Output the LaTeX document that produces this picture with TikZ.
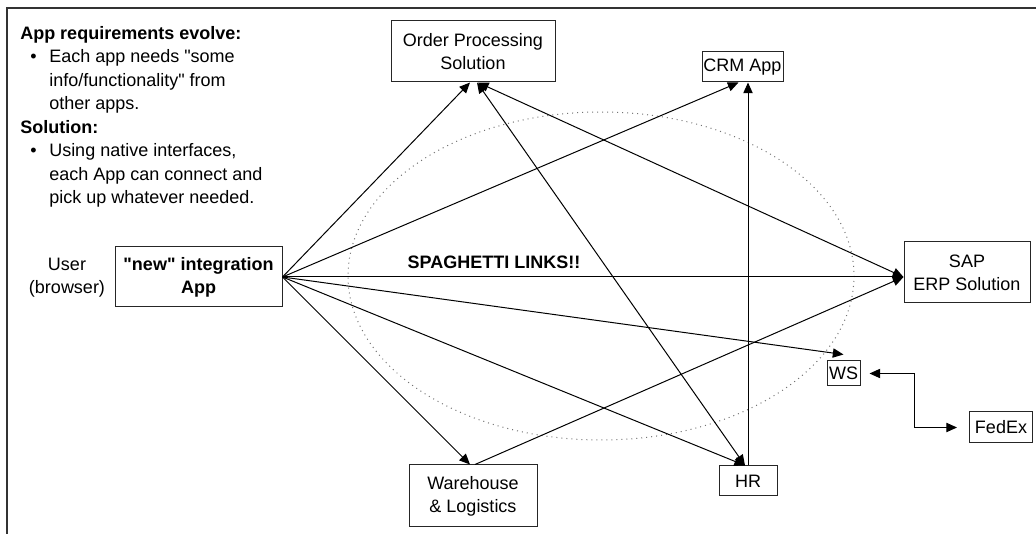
\documentclass[tikz,border=0pt]{standalone}
\usepackage{fontspec}
\setmainfont{Liberation Sans}[Ligatures=TeXOff]
\usetikzlibrary{arrows.meta,calc}
\newcommand\basefont{\fontsize{13.5}{17.25}\selectfont}
\begin{document}
\begin{tikzpicture}[x=0.75pt,y=-0.75pt,
  every node/.style={font=\basefont},
  box/.style={draw=black!85, line width=0.75pt, align=center, inner sep=1pt},
  link/.style={line width=0.75pt, -{Triangle[length=8pt,width=7pt]}},
  linkboth/.style={line width=0.75pt, {Triangle[length=8pt,width=7pt]}-{Triangle[length=8pt,width=7pt]}},
  txt/.style={anchor=base west, inner sep=0pt},
  ]
\useasboundingbox (0,0) rectangle (1036,534);
% frame
\draw[line width=1.5pt, black!80] (7,534) -- (7,8) -- (1036,8);
% dotted ellipse
\draw[black!55, line width=0.75pt, dash pattern=on 0.75pt off 3pt] (601,276) ellipse [x radius=253, y radius=164];

% notes
\node[txt, font=\basefont\bfseries] (h1) at (20,39.5) {App requirements evolve:};
\node[txt] (l1) at (30,63) {\makebox[14.25pt][l]{\textbullet}Each app needs "some};
\node[txt] (l2) at (49,86.5) {info/functionality" from};
\node[txt] (l3) at (49,110) {other apps.};
\node[txt, font=\basefont\bfseries] (h2) at (20,133.5) {Solution:};
\node[txt] (l4) at (30,157) {\makebox[14.25pt][l]{\textbullet}Using native interfaces,};
\node[txt] (l5) at (49,180.5) {each App can connect and};
\node[txt] (l6) at (49,204) {pick up whatever needed.};

% nodes
\node[align=center, inner sep=0pt] (user) at (67,277.5) {User\\(browser)};
\node[box, minimum width=125.25pt, minimum height=45pt, font=\basefont\bfseries] (app) at (198.5,277) {"new" integration\\App};
\node[box, minimum width=123pt, minimum height=45.75pt] (ord) at (473,51.5) {Order Processing\\Solution};
\node[box, minimum width=60.75pt, minimum height=22.5pt] (crm) at (742.5,67) {CRM App};
\node[box, minimum width=94.5pt, minimum height=45.75pt] (sap) at (967,272.5) {SAP\\ERP Solution};
\node[box, minimum width=24.75pt, minimum height=18.75pt] (ws) at (843.5,373.5) {WS};
\node[box, minimum width=47.25pt, minimum height=23.25pt] (fedex) at (1001,427.5) {FedEx};
\node[box, minimum width=96pt, minimum height=46.5pt] (wh) at (473,496) {Warehouse\\\& Logistics};
\node[box, minimum width=43.5pt, minimum height=22.5pt] (hr) at (748,481) {HR};
\node[font=\basefont\bfseries, inner sep=0pt] (lbl) at (494,262) {SPAGHETTI LINKS!!};

\coordinate (sapin) at (app.east -| sap.west);

% links
\draw[linkboth] ($(ord.south)+(5,0)$) -- (sapin);
\draw[linkboth] ($(ord.south)+(4,0)$) -- ($(hr.north)+(-3,0)$);
\draw[link] (hr.north) -- (hr.north |- crm.south);
\draw[link] ($(wh.north)+(2,0)$) -- (sapin);
\draw[link] (app.east) -- ($(ord.south)+(-3,0)$);
\draw[link] (app.east) -- ($(crm.south)+(-4,0)$);
\draw[link] (app.east) -- (sapin);
\draw[link] (app.east) -- ($(ws.north)+(0,-6)$);
\draw[link] (app.east) -- ($(hr.north)+(-3,0)$);
\draw[link] (app.east) -- ($(wh.north)+(-3,0)$);
\draw[linkboth] ($(ws.east)+(9,0)$) -- ++(45,0) |- ($(fedex.west)+(-12,0)$);
\end{tikzpicture}
\end{document}
